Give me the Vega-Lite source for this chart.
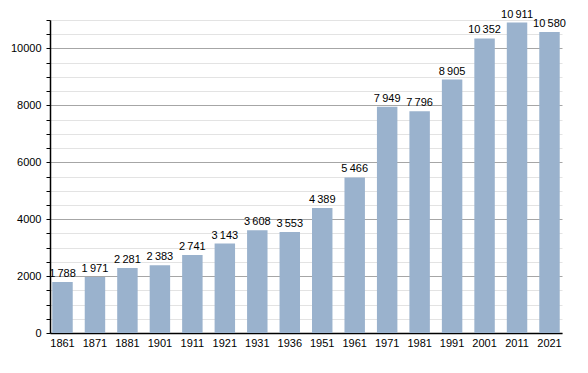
{
  "$schema": "https://vega.github.io/schema/vega-lite/v6.json",
  "width": 512,
  "height": 313,
  "autosize": "none",
  "padding": {"left": 50, "top": 20, "right": 26, "bottom": 40},
  "background": "white",
  "config": {
    "view": {"stroke": null},
    "font": "Liberation Sans",
    "locale": {"number": {"decimal": ".", "thousands": "\u2009", "grouping": [3], "currency": ["", ""]}}
  },
  "data": {
    "values": [
      {"year": "1861", "pop": 1788},
      {"year": "1871", "pop": 1971},
      {"year": "1881", "pop": 2281},
      {"year": "1901", "pop": 2383},
      {"year": "1911", "pop": 2741},
      {"year": "1921", "pop": 3143},
      {"year": "1931", "pop": 3608},
      {"year": "1936", "pop": 3553},
      {"year": "1951", "pop": 4389},
      {"year": "1961", "pop": 5466},
      {"year": "1971", "pop": 7949},
      {"year": "1981", "pop": 7796},
      {"year": "1991", "pop": 8905},
      {"year": "2001", "pop": 10352},
      {"year": "2011", "pop": 10911},
      {"year": "2021", "pop": 10580}
    ]
  },
  "encoding": {
    "x": {
      "field": "year", "type": "ordinal", "sort": null,
      "scale": {"paddingInner": 0.37, "paddingOuter": 0.07},
      "axis": {
        "title": null, "labelAngle": 0, "ticks": false, "domainColor": "#000", "domainWidth": 1.5,
        "labelColor": "#000", "labelFontSize": 11, "labelPadding": 4
      }
    },
    "y": {
      "field": "pop", "type": "quantitative",
      "scale": {"domain": [0, 11000], "nice": false},
      "axis": {
        "title": null,
        "values": [0,500,1000,1500,2000,2500,3000,3500,4000,4500,5000,5500,6000,6500,7000,7500,8000,8500,9000,9500,10000,10500,11000],
        "format": "d",
        "labelExpr": "datum.value % 2000 === 0 ? datum.label : ''",
        "gridColor": {"condition": {"test": "datum.value % 2000 === 0", "value": "#a6a6a6"}, "value": "#e3e3e3"},
        "gridWidth": 1,
        "domainColor": "#000", "domainWidth": 1.5,
        "tickColor": "#000", "tickSize": 4,
        "labelColor": "#000", "labelFontSize": 11, "labelPadding": 5
      }
    }
  },
  "layer": [
    {"mark": {"type": "bar", "color": "#9ab2cd"}},
    {
      "mark": {"type": "text", "baseline": "bottom", "dy": -3, "fontSize": 11, "color": "#000"},
      "encoding": {"text": {"field": "pop", "type": "quantitative", "format": ","}}
    }
  ]
}
